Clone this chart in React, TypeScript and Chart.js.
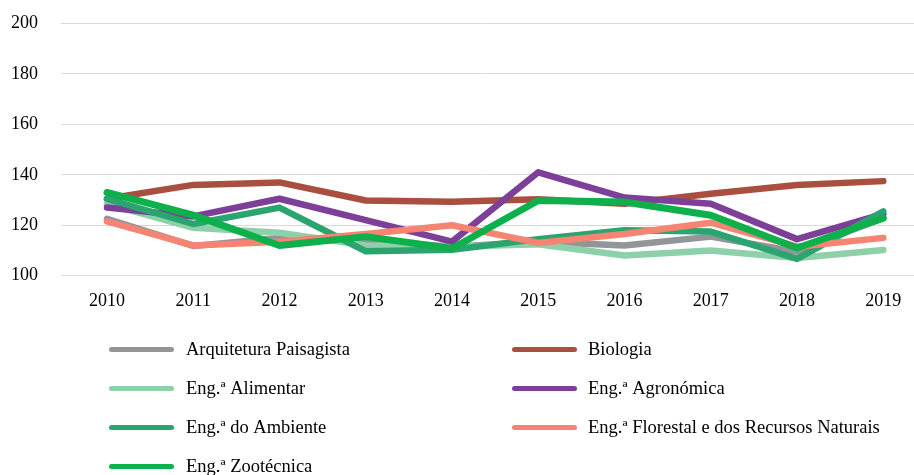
import React, { useEffect, useRef } from "react";
import { Chart, registerables } from "chart.js";

Chart.register(...registerables);

const years = [2010, 2011, 2012, 2013, 2014, 2015, 2016, 2017, 2018, 2019];
const yTicks = [100, 120, 140, 160, 180, 200];

const seriesNames = [
  "Arquitetura Paisagista",
  "Biologia",
  "Eng.ª Alimentar",
  "Eng.ª Agronómica",
  "Eng.ª do Ambiente",
  "Eng.ª Florestal e dos Recursos Naturais",
  "Eng.ª Zootécnica",
];

const arquitetura = [122.5, 111.8, 115, 114, 111.5, 113.5, 112, 115.5, 109.5, 123];
const biologia = [130.5, 136, 137, 129.8, 129.3, 130.3, 128.5, 132.5, 136, 137.5];
const alimentar = [128.5, 119, 117, 112, 111.5, 112.5, 108, 110, 107, 110.2];
const agronomica = [127, 123.5, 130.5, 122, 113.5, 141, 131, 128.5, 114.5, 124.5];
const ambiente = [130.5, 120.5, 127, 109.7, 110.3, 114.5, 118, 117.5, 106.7, 125.5];
const florestal = [121.5, 112, 113.5, 116.5, 120, 113, 116.5, 121, 111.5, 115];
const zootecnica = [133, 124, 112, 115.5, 110.8, 129.8, 129.2, 124, 111, 122.8];

const seriesValues = [arquitetura, biologia, alimentar, agronomica, ambiente, florestal, zootecnica];
const seriesColors = ["#939598", "#A84F40", "#8DD0A9", "#7E3F98", "#2BA56F", "#F58473", "#0DB04B"];

const FONT = "'Liberation Serif', 'Times New Roman', serif";

const legendPlugin = {
  id: "customLegend",
  afterDraw(chart: any) {
    const ctx = chart.ctx;
    const cols = [
      { lineX0: 109, lineX1: 174, textX: 186 },
      { lineX0: 512, lineX1: 577, textX: 588 },
    ];
    const rowsY = [349.5, 388.5, 427.5, 466.5];
    ctx.save();
    ctx.font = `18.5px ${FONT}`;
    ctx.textBaseline = "middle";
    ctx.textAlign = "left";
    seriesNames.forEach((name, i) => {
      const col = cols[i % 2];
      const y = rowsY[Math.floor(i / 2)];
      ctx.strokeStyle = seriesColors[i];
      ctx.lineWidth = 5;
      ctx.lineCap = "round";
      ctx.beginPath();
      ctx.moveTo(col.lineX0 + 2.5, y);
      ctx.lineTo(col.lineX1 - 2.5, y);
      ctx.stroke();
      ctx.fillStyle = "#000";
      ctx.fillText(name, col.textX, y + 1);
    });
    ctx.restore();
  },
};

export default function App() {
  const ref = useRef<HTMLCanvasElement | null>(null);

  useEffect(() => {
    document.body.style.margin = "0";
    const canvas = ref.current;
    if (!canvas) return;
    const chart = new Chart(canvas, {
      type: "line",
      data: {
        datasets: seriesNames.map((name, i) => ({
          label: name,
          data: years.map((yr, j) => ({ x: yr, y: seriesValues[i][j] })),
          borderColor: seriesColors[i],
          backgroundColor: seriesColors[i],
          borderWidth: i === 6 ? 7 : 6.5,
          borderCapStyle: "round",
          borderJoinStyle: "round",
          pointRadius: 0,
          tension: 0,
          fill: false,
          order: seriesNames.length - i,
        })),
      },
      options: {
        animation: false,
        responsive: false,
        layout: { padding: { top: 23.5, left: 0, right: 0, bottom: 159.3 } },
        plugins: { legend: { display: false }, tooltip: { enabled: false } },
        scales: {
          x: {
            type: "linear",
            min: 2009.467,
            max: 2019.356,
            afterBuildTicks: (s: any) => {
              s.ticks = years.map((v) => ({ value: v }));
            },
            afterFit: (s: any) => {
              s.height = 40;
              s.paddingLeft = 0;
              s.paddingRight = 0;
              s.paddingTop = 0;
              s.paddingBottom = 0;
            },
            grid: { display: false, drawTicks: false },
            border: { display: false },
            ticks: {
              padding: 15,
              autoSkip: false,
              maxRotation: 0,
              color: "#000",
              font: { family: FONT, size: 18 },
              callback: (v: any) => String(v),
            },
          },
          y: {
            min: 100,
            max: 200,
            afterBuildTicks: (s: any) => {
              s.ticks = yTicks.map((v) => ({ value: v }));
            },
            afterFit: (s: any) => {
              s.width = 61;
              s.paddingTop = 0;
              s.paddingBottom = 0;
              s.paddingLeft = 0;
              s.paddingRight = 0;
            },
            grid: { color: "#D9D9D9", lineWidth: 1, drawTicks: false },
            border: { display: false },
            ticks: {
              padding: 23,
              color: "#000",
              font: { family: FONT, size: 18 },
            },
          },
        },
      },
      plugins: [legendPlugin],
    } as any);
    return () => chart.destroy();
  }, []);

  return (
    <div style={{ position: "absolute", left: 0, top: 0, width: 914, height: 475 }}>
      <canvas ref={ref} width={914} height={475} style={{ display: "block" }} />
    </div>
  );
}
